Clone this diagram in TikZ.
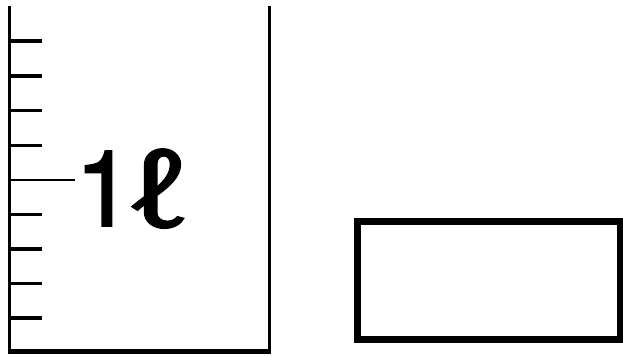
\documentclass[tikz,border=0pt]{standalone}
\usepackage{fontspec}
\usepackage{graphicx}
\newfontfamily\onefont{TeX Gyre Heros}[FakeBold=1.5]
\newfontfamily\elfont{TeX Gyre Heros}[FakeBold=1.2]
\begin{document}
\begin{tikzpicture}[x=1pt,y=-1pt,
  wall/.style={line width=3.5pt},
  tick/.style={line width=3.6pt},
  longtick/.style={line width=2.5pt},
  box/.style={draw,line width=7pt}]
\useasboundingbox (0,0) rectangle (623,356);
% beaker
\draw[wall] (9.3,6) -- (9.3,351.5) -- (269.5,351.5) -- (269.5,6);
\draw[line width=4.5pt] (7.5,351.5) -- (271.3,351.5);
\foreach \y in {40.7,76,110.3,145.3,214.3,249,283.3,317.7}
  \draw[tick] (11,\y) -- (42,\y);
\draw[longtick] (11,180) -- (75,180);
\node[anchor=base west,inner sep=0pt,font=\fontsize{106}{110}\selectfont] (label) at (74.5,226) {\onefont 1\hspace{-6pt}\elfont\scalebox{1.35}[1]{ℓ}};
% rectangle
\draw[box] (357.7,221) rectangle (620.3,339.5);
\end{tikzpicture}
\end{document}
